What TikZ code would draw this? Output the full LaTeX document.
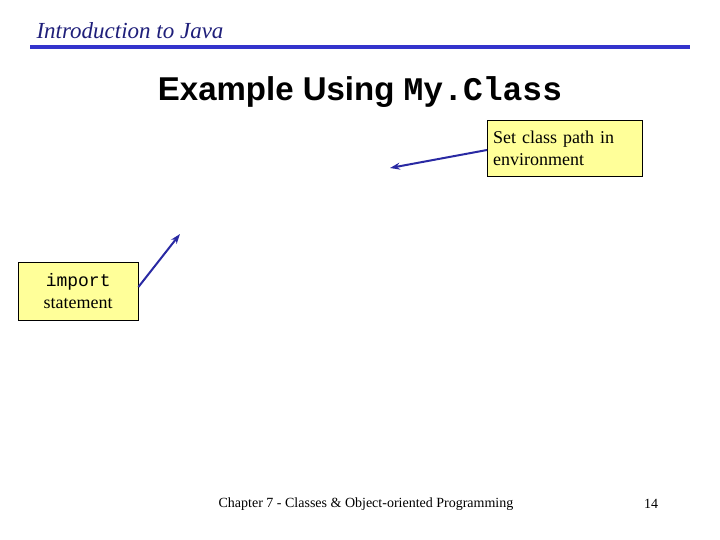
\documentclass[tikz,border=0pt]{standalone}
\usepackage{fontspec}
\setmainfont{Liberation Serif}
\setsansfont{Liberation Sans}
\setmonofont{Liberation Mono}
\usetikzlibrary{arrows.meta,positioning}
\definecolor{slideblue}{HTML}{3333CC}
\definecolor{notefill}{HTML}{FFFF99}
\begin{document}
\begin{tikzpicture}[
    x=1pt, y=-1pt,
    note/.style={rectangle, draw, fill=notefill, align=left, font=\fontsize{18}{22}\selectfont, inner sep=5pt},
    arrow/.style={-{Stealth[length=10pt,width=7pt]}, line width=2pt, draw=slideblue!80!black}
]
    \useasboundingbox (0,0) rectangle (720,540);
    % header
    \node[anchor=west, text=slideblue!60!black, font=\fontsize{23}{27}\selectfont\itshape] (head) at (33,31) {Introduction to Java};
    \draw[slideblue, line width=4pt] (30,47) -- (690,47);
    \node[font=\fontsize{33}{38}\selectfont] (title) at (360,92) {\sffamily\bfseries Example Using \ttfamily My.Class};
    % notes
    \node[note, minimum width=155pt, minimum height=56pt, anchor=north west, text width=143pt] (path) at (487,120) {Set class path in\\environment};
    \node[note, minimum width=120pt, minimum height=58pt, anchor=north west, align=center, text width=110pt] (imp) at (18,262) {\texttt{import}\\statement};
    \coordinate (pathend) at (390,168);
    \coordinate (impend) at (180,234);
    \draw[arrow] (path.west |- 0,150) -- (pathend);
    \draw[arrow] (imp.east |- 0,287) -- (impend);
    % footer
    \node[font=\fontsize{14}{16}\selectfont] (foot) at (366,504) {Chapter 7 - Classes \& Object-oriented Programming};
    \node[font=\fontsize{14}{16}\selectfont] (page) at (651,504) {14};
\end{tikzpicture}
\end{document}
